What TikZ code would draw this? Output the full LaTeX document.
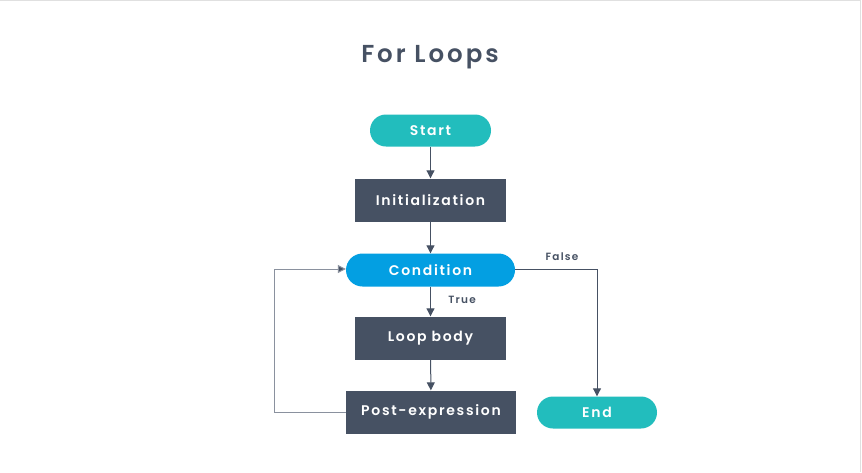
\documentclass[tikz,border=0pt]{standalone}
\usepackage{fontspec}
\setmainfont{Poppins}[UprightFont=*-Medium,BoldFont=*-SemiBold,LetterSpace=12]
\usetikzlibrary{arrows.meta,positioning}
\definecolor{teal}{HTML}{22BDBD}
\definecolor{slate}{HTML}{465163}
\definecolor{condblue}{HTML}{039FE2}
\definecolor{titlec}{HTML}{465163}
\definecolor{loopgray}{HTML}{8A919E}
\begin{document}
\begin{tikzpicture}[x=1pt,y=-1pt,
  pill/.style={rounded corners=16pt,fill=teal,text=white,font=\fontsize{14}{14}\selectfont\bfseries,inner sep=0pt},
  box/.style={fill=slate,text=white,font=\fontsize{14}{14}\selectfont\bfseries,inner sep=0pt},
  conn/.style={draw=slate,line width=1pt,-{Triangle[length=8pt,width=8pt]}},
  lbl/.style={font=\fontsize{10.5}{10.5}\selectfont\bfseries,text=slate}]
\useasboundingbox (0,0) rectangle (862,472);
\fill[white] (0,0) rectangle (862,472);
\draw[black!12,line width=1pt] (0,0.5) -- (860.5,0.5) -- (860.5,472);
\node[font=\fontsize{24.5}{24.5}\selectfont\bfseries,text=titlec] (title) at (430,57) {For Loops};
\node[pill,minimum width=121pt,minimum height=32pt] (start) at (430.5,130.5) {Start};
\node[box,minimum width=151pt,minimum height=43pt] (init) at (430.5,200) {Initialization};
\node[pill,fill=condblue,minimum width=169pt,minimum height=33pt,rounded corners=16.5pt] (cond) at (430.5,270) {Condition};
\node[box,minimum width=151pt,minimum height=43pt] (body) at (430.5,338) {Loop body};
\node[box,minimum width=170pt,minimum height=43pt] (post) at (431,412) {Post-expression};
\node[pill,minimum width=120pt,minimum height=32pt] (end) at (597,412.5) {End};
\coordinate (lb1) at (274,412);
\coordinate (lb2) at (274,269);
\coordinate (fa) at (597,269);
\draw[conn] (start) -- (init);
\draw[conn] (init) -- (cond);
\draw[conn] (cond) -- node[lbl,right=14pt,pos=0.45] (truel) {True} (body);
\draw[conn] (body) -- (post);
\draw[conn,draw=loopgray,{}-{Triangle[length=8pt,width=8pt,fill=slate]}] (post.west) -- (lb1) -- (lb2) -- (cond.west |- lb2);
\draw[conn] (cond.east |- fa) -- (fa) -- (end.north);
\node[lbl] (falsel) at (562,257) {False};
\end{tikzpicture}
\end{document}
